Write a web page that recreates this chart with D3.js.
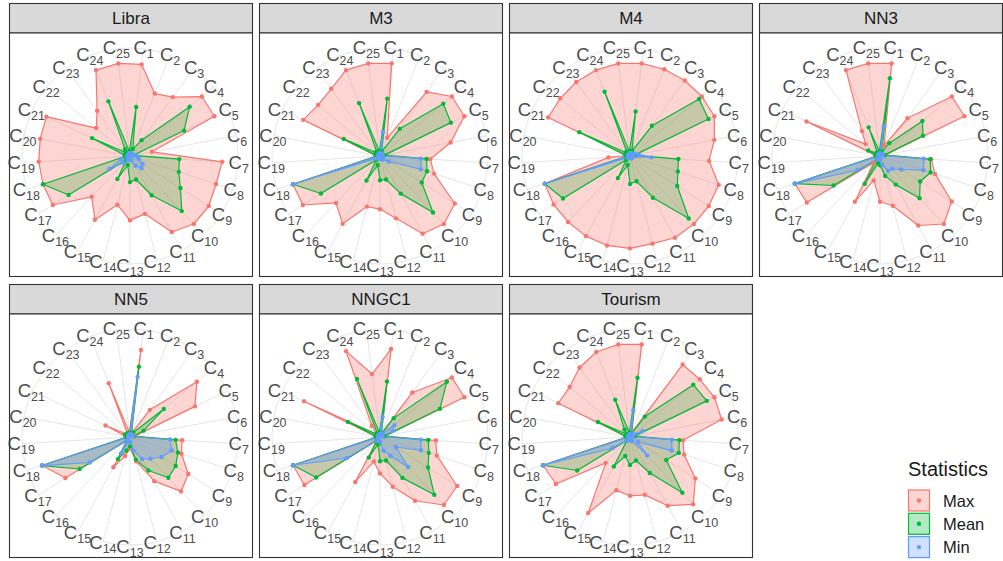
<!DOCTYPE html>
<html>
<head>
<meta charset="utf-8">
<script src="https://cdn.jsdelivr.net/npm/d3@7"></script>
<style>
  body { margin: 0; background: #fff; }
  svg { display: block; font-family: "Liberation Sans", Arial, Helvetica, sans-serif; }
</style>
</head>
<body>
<svg id="chart" width="1003" height="561"></svg>
<script>
// Axis categories C1..C25 and the panels (one per dataset)
const categories = d3.range(1, 26).map(i => "C" + i);
const datasets = ["Libra", "M3", "M4", "NN3", "NN5", "NNGC1", "Tourism"];
const statistics = ["Max", "Mean", "Min"];
const statColors = ["#F8766D", "#00BA38", "#619CFF"];

// Libra
const libraMax  = [0.99, 0.72, 0.78, 1.00, 1.00, 0.24, 0.99, 0.97, 1.00, 1.00, 0.93, 0.64, 0.69, 0.54, 0.78, 0.60, 0.98, 0.98, 0.98, 0.98, 0.99, 0.47, 0.60, 0.99, 1.00];
const libraMean = [0.53, 0.08, 0.21, 0.83, 0.64, 0.04, 0.53, 0.55, 0.64, 0.81, 0.48, 0.26, 0.28, 0.10, 0.28, 0.06, 0.78, 0.98, 0.05, 0.06, 0.45, 0.06, 0.09, 0.63, 0.05];
const libraMin  = [0.03, 0.03, 0.03, 0.03, 0.03, 0.05, 0.08, 0.10, 0.16, 0.18, 0.12, 0.05, 0.03, 0.03, 0.05, 0.10, 0.26, 0.10, 0.03, 0.02, 0.02, 0.02, 0.02, 0.03, 0.03];
// M3
const m3Max  = [1.00, 0.21, 0.85, 1.00, 1.00, 0.77, 0.54, 0.61, 0.95, 1.00, 0.95, 0.69, 0.57, 0.56, 0.83, 0.69, 0.98, 0.98, 0.05, 0.05, 0.91, 0.86, 0.89, 0.99, 1.00];
const m3Mean = [0.62, 0.05, 0.36, 0.88, 0.84, 0.05, 0.50, 0.53, 0.53, 0.83, 0.46, 0.26, 0.26, 0.10, 0.30, 0.06, 0.75, 0.98, 0.04, 0.05, 0.43, 0.06, 0.06, 0.61, 0.05];
const m3Min  = [0.26, 0.03, 0.03, 0.03, 0.03, 0.03, 0.44, 0.46, 0.11, 0.05, 0.04, 0.03, 0.03, 0.03, 0.03, 0.03, 0.05, 0.98, 0.02, 0.02, 0.02, 0.02, 0.02, 0.02, 0.03];
// M4
const m4Max  = [1.00, 1.00, 1.00, 1.00, 1.00, 0.92, 0.85, 1.00, 1.00, 1.00, 1.00, 0.97, 0.99, 0.99, 0.98, 0.97, 0.97, 0.96, 0.23, 0.03, 0.97, 0.97, 0.98, 0.99, 1.00];
const m4Mean = [0.48, 0.06, 0.40, 0.96, 0.93, 0.05, 0.52, 0.54, 0.60, 0.92, 0.51, 0.28, 0.30, 0.10, 0.27, 0.06, 0.85, 0.96, 0.04, 0.05, 0.60, 0.06, 0.06, 0.74, 0.05];
const m4Min  = [0.03, 0.03, 0.03, 0.03, 0.05, 0.09, 0.23, 0.03, 0.03, 0.03, 0.03, 0.02, 0.02, 0.02, 0.02, 0.02, 0.03, 0.96, 0.02, 0.02, 0.02, 0.02, 0.02, 0.02, 0.03];
// NN3
const nn3Max  = [1.00, 0.12, 0.50, 1.00, 1.00, 0.05, 0.55, 0.62, 0.91, 1.00, 0.85, 0.55, 0.49, 0.27, 0.56, 0.10, 0.93, 0.96, 0.04, 0.05, 0.87, 0.20, 0.33, 0.99, 1.00];
const nn3Mean = [0.84, 0.05, 0.17, 0.59, 0.51, 0.05, 0.54, 0.57, 0.51, 0.62, 0.35, 0.22, 0.10, 0.08, 0.34, 0.05, 0.59, 0.96, 0.04, 0.05, 0.14, 0.05, 0.05, 0.33, 0.05];
const nn3Min  = [0.32, 0.03, 0.03, 0.03, 0.03, 0.03, 0.47, 0.49, 0.27, 0.19, 0.18, 0.10, 0.04, 0.03, 0.03, 0.05, 0.28, 0.96, 0.02, 0.02, 0.02, 0.02, 0.02, 0.02, 0.03];
// NN5
const nn5Max  = [0.94, 0.04, 0.36, 0.93, 0.77, 0.05, 0.56, 0.58, 0.74, 0.80, 0.54, 0.27, 0.12, 0.21, 0.37, 0.05, 0.82, 0.99, 0.04, 0.05, 0.29, 0.05, 0.05, 0.62, 0.05];
const nn5Mean = [0.76, 0.04, 0.06, 0.47, 0.16, 0.04, 0.49, 0.54, 0.58, 0.60, 0.41, 0.25, 0.10, 0.15, 0.27, 0.05, 0.64, 0.99, 0.04, 0.04, 0.06, 0.04, 0.04, 0.05, 0.04];
const nn5Min  = [0.65, 0.03, 0.03, 0.03, 0.03, 0.03, 0.43, 0.47, 0.40, 0.32, 0.27, 0.15, 0.05, 0.05, 0.20, 0.05, 0.51, 0.99, 0.02, 0.02, 0.02, 0.02, 0.02, 0.02, 0.03];
// NNGC1
const nngc1Max  = [0.95, 0.04, 0.59, 1.00, 1.00, 0.05, 0.60, 0.64, 0.98, 1.00, 0.78, 0.55, 0.39, 0.27, 0.55, 0.05, 0.96, 0.98, 0.04, 0.05, 0.90, 0.05, 0.15, 0.99, 0.68];
const nngc1Mean = [0.60, 0.04, 0.25, 0.93, 0.71, 0.05, 0.52, 0.55, 0.61, 0.85, 0.50, 0.26, 0.26, 0.08, 0.25, 0.05, 0.81, 0.98, 0.04, 0.05, 0.38, 0.05, 0.05, 0.67, 0.05];
const nngc1Min  = [0.22, 0.03, 0.05, 0.20, 0.15, 0.03, 0.44, 0.46, 0.20, 0.44, 0.23, 0.15, 0.05, 0.04, 0.04, 0.05, 0.42, 0.98, 0.02, 0.02, 0.02, 0.02, 0.02, 0.02, 0.03];
// Tourism
const tourismMax  = [1.00, 0.05, 0.96, 0.97, 1.00, 1.00, 0.57, 0.61, 0.83, 0.99, 0.84, 0.64, 0.63, 0.59, 0.93, 0.38, 0.94, 0.98, 0.04, 0.05, 0.85, 0.84, 0.92, 0.98, 1.00];
const tourismMean = [0.64, 0.04, 0.27, 0.88, 0.91, 0.05, 0.53, 0.55, 0.46, 0.82, 0.44, 0.26, 0.30, 0.21, 0.36, 0.05, 0.67, 0.98, 0.04, 0.05, 0.38, 0.05, 0.10, 0.43, 0.05];
const tourismMin  = [0.29, 0.03, 0.03, 0.05, 0.15, 0.03, 0.45, 0.47, 0.10, 0.27, 0.05, 0.04, 0.03, 0.03, 0.03, 0.05, 0.22, 0.98, 0.02, 0.02, 0.02, 0.02, 0.02, 0.02, 0.03];

const seriesTable = [
  [libraMax, libraMean, libraMin],
  [m3Max, m3Mean, m3Min],
  [m4Max, m4Mean, m4Min],
  [nn3Max, nn3Mean, nn3Min],
  [nn5Max, nn5Mean, nn5Min],
  [nngc1Max, nngc1Mean, nngc1Min],
  [tourismMax, tourismMean, tourismMin]
];

// ---- layout ----
const svg = d3.select("#chart");
const colX = i => 9.5 + i * 250;
const rowY = [3.5, 284.5];
const panelW = 243, stripH = 29.5, bodyH = 243.5;
const centerDX = 120.5, centerDY = 123;

const angle = d3.scaleBand().domain(categories).range([0, 2 * Math.PI]);
const angleOf = c => angle(c) + angle.bandwidth() / 2;
const r = d3.scaleLinear().domain([0, 1]).range([0, 93.3]);
const gridR = 108, labelR = 109;
const color = d3.scaleOrdinal().domain(statistics).range(statColors);

const radial = d3.lineRadial()
  .angle(d => angleOf(d.cat))
  .radius(d => r(d.value))
  .curve(d3.curveLinearClosed);

// fills are stacked Mean, Max, Min; outlines and points Max, Mean, Min
const fillOrder = ["Mean", "Max", "Min"];

datasets.forEach((name, idx) => {
  const col = idx % 4, row = Math.floor(idx / 4);
  const x0 = colX(col), y0 = rowY[row];
  const g = svg.append("g");

  // strip
  g.append("rect").attr("x", x0).attr("y", y0).attr("width", panelW).attr("height", stripH)
    .attr("fill", "#d9d9d9").attr("stroke", "#333333").attr("stroke-width", 1.1);
  g.append("text").attr("x", x0 + panelW / 2).attr("y", y0 + stripH / 2 + 6)
    .attr("text-anchor", "middle").attr("font-size", 17).attr("fill", "#1a1a1a").text(name);

  // panel body
  const by = y0 + stripH;
  g.append("rect").attr("x", x0).attr("y", by).attr("width", panelW).attr("height", bodyH)
    .attr("fill", "#fff");

  const c = g.append("g").attr("transform", `translate(${x0 + centerDX},${by + centerDY})`);

  // grid: spokes and outer ring
  c.selectAll("line.spoke").data(categories).join("line")
    .attr("x1", 0).attr("y1", 0)
    .attr("x2", d => gridR * Math.sin(angleOf(d)))
    .attr("y2", d => -gridR * Math.cos(angleOf(d)))
    .attr("stroke", "#e6e6e6").attr("stroke-width", 1);
  c.append("circle").attr("r", gridR).attr("fill", "none")
    .attr("stroke", "#e6e6e6").attr("stroke-width", 1);

  // category labels
  const lab = c.selectAll("text.lab").data(categories).join("text")
    .attr("x", d => labelR * Math.sin(angleOf(d)))
    .attr("y", d => -labelR * Math.cos(angleOf(d)) + 6.5)
    .attr("text-anchor", "middle").attr("fill", "#4d4d4d").attr("font-size", 18.5);
  lab.append("tspan").text("C");
  lab.append("tspan").attr("dy", 4).attr("font-size", 12.5).text(d => d.slice(1));

  // series
  const series = statistics.map((s, si) => ({
    stat: s,
    pts: categories.map((cat, ci) => ({ cat, value: seriesTable[idx][si][ci] }))
  }));
  const byStat = s => series.find(d => d.stat === s);

  c.selectAll("path.fill").data(fillOrder.map(byStat)).join("path")
    .attr("d", d => radial(d.pts))
    .attr("fill", d => color(d.stat)).attr("fill-opacity", 0.3)
    .attr("stroke", "none");

  c.selectAll("path.line").data(series).join("path")
    .attr("d", d => radial(d.pts))
    .attr("fill", "none")
    .attr("stroke", d => color(d.stat)).attr("stroke-width", 1.2)
    .attr("stroke-linejoin", "round");

  series.forEach(s => {
    c.selectAll(null).data(s.pts).join("circle")
      .attr("cx", d => r(d.value) * Math.sin(angleOf(d.cat)))
      .attr("cy", d => -r(d.value) * Math.cos(angleOf(d.cat)))
      .attr("r", 2.2).attr("fill", color(s.stat));
  });

  // panel border on top
  g.append("rect").attr("x", x0).attr("y", by).attr("width", panelW).attr("height", bodyH)
    .attr("fill", "none").attr("stroke", "#333333").attr("stroke-width", 1.1);
});

// ---- legend ----
const lg = svg.append("g").attr("transform", "translate(908,0)");
lg.append("text").attr("x", 0).attr("y", 476).attr("font-size", 20).attr("fill", "#1a1a1a").text("Statistics");
const keyY = [490, 513.3, 536.6];
statistics.forEach((s, i) => {
  lg.append("rect").attr("x", 0.5).attr("y", keyY[i]).attr("width", 21).attr("height", 21)
    .attr("fill", color(s)).attr("fill-opacity", 0.3)
    .attr("stroke", color(s)).attr("stroke-width", 1.2);
  lg.append("circle").attr("cx", 11).attr("cy", keyY[i] + 10.5).attr("r", 2.2).attr("fill", color(s));
  lg.append("text").attr("x", 35).attr("y", keyY[i] + 16.5).attr("font-size", 16.5)
    .attr("fill", "#1a1a1a").text(s);
});
</script>
</body>
</html>
